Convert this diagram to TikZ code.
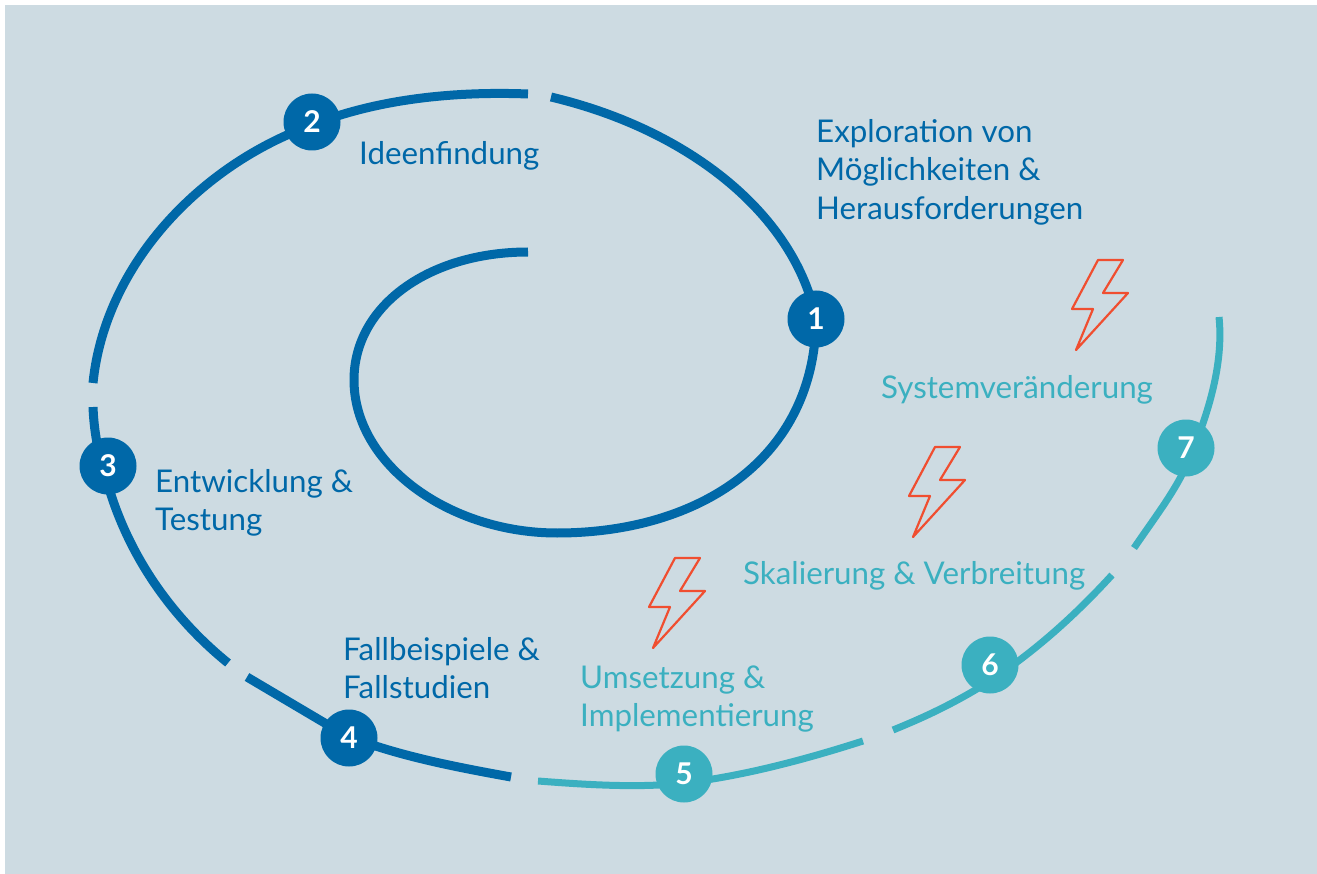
\documentclass[tikz,border=0pt]{standalone}
\usepackage{fontspec}
\setmainfont{Lato}
\definecolor{bgc}{HTML}{CDDBE2}
\definecolor{blu}{HTML}{0068A8}
\definecolor{tea}{HTML}{3BB0C0}
\definecolor{rd}{HTML}{F04E30}
\tikzset{
 dk/.style={draw=blu,line width=9pt},
 lt/.style={draw=tea,line width=7pt},
 num/.style={circle,minimum size=57pt,inner sep=0pt,text=white,font=\fontsize{30}{30}\selectfont\bfseries},
 numb/.style={num,fill=blu},
 numt/.style={num,fill=tea},
 lab/.style={anchor=base west,inner sep=0pt,align=left,font=\fontsize{31.3}{38.5}\selectfont},
 labb/.style={lab,text=blu},
 labt/.style={lab,text=tea},
 bolt/.style={draw=rd,line width=2.2pt,line join=round}
}
\newcommand{\boltshape}[2]{%
 \draw[bolt,shift={(#1,#2)}] (675,558)--(700,558)--(680,591)--(705,591)--(653,648)--(670,607)--(649,607)--cycle;}
\begin{document}
\begin{tikzpicture}[x=1pt,y=-1pt]
\useasboundingbox (0,0) rectangle (1317,874);
\fill[bgc] (5,5) rectangle (1317,874);
\draw[dk] (528,252) .. controls (430,252) and (354,305) .. (354,380)
  .. controls (354,465) and (450,533) .. (557,533)
  .. controls (700,533) and (815,458) .. (816,319)
  .. controls (795,215) and (690,130) .. (551,97);
\draw[dk] (528,94) .. controls (450,91) and (375,100) .. (312,125)
  .. controls (200,165) and (105,265) .. (93,383);
\draw[dk] (93,407) .. controls (94,430) and (97,450) .. (108,485)
  .. controls (130,560) and (175,620) .. (228,663);
\draw[dk] (247,677) -- (345,735) .. controls (395,755) and (450,766) .. (511,777);
\draw[lt] (538,781) .. controls (590,785) and (640,788) .. (684,783)
  .. controls (745,776) and (810,758) .. (863,741);
\draw[lt] (893,730) .. controls (925,717) and (955,703) .. (990,681)
  .. controls (1040,648) and (1080,610) .. (1112,575);
\draw[lt] (1134,548) .. controls (1160,510) and (1180,485) .. (1193,450)
  .. controls (1207,415) and (1224,365) .. (1219,317);
\node[numb] (n1) at (816,319) {1};
\node[numb] (n2) at (312,122) {2};
\node[numb] (n3) at (108,466) {3};
\node[numb] (n4) at (349,738) {4};
\node[numt] (n5) at (684,774) {5};
\node[numt] (n6) at (990,665) {6};
\node[numt] (n7) at (1186,448) {7};
\node[labb] (t1) at (816,219.5) {Exploration von\\Möglichkeiten \&\\Herausforderungen};
\node[labb] (t2) at (359,164.5) {Ideenfindung};
\node[labb] (t3) at (155,530.5) {Entwicklung \&\\Testung};
\node[labb] (t4) at (343,698.5) {Fallbeispiele \&\\Fallstudien};
\node[labt] (t5) at (580,726.5) {Umsetzung \&\\Implementierung};
\node[labt] (t6) at (743,584.5) {Skalierung \& Verbreitung};
\node[labt] (t7) at (881,398.5) {Systemveränderung};
\boltshape{0}{0}
\boltshape{260}{-111}
\boltshape{423}{-298}
\end{tikzpicture}
\end{document}
